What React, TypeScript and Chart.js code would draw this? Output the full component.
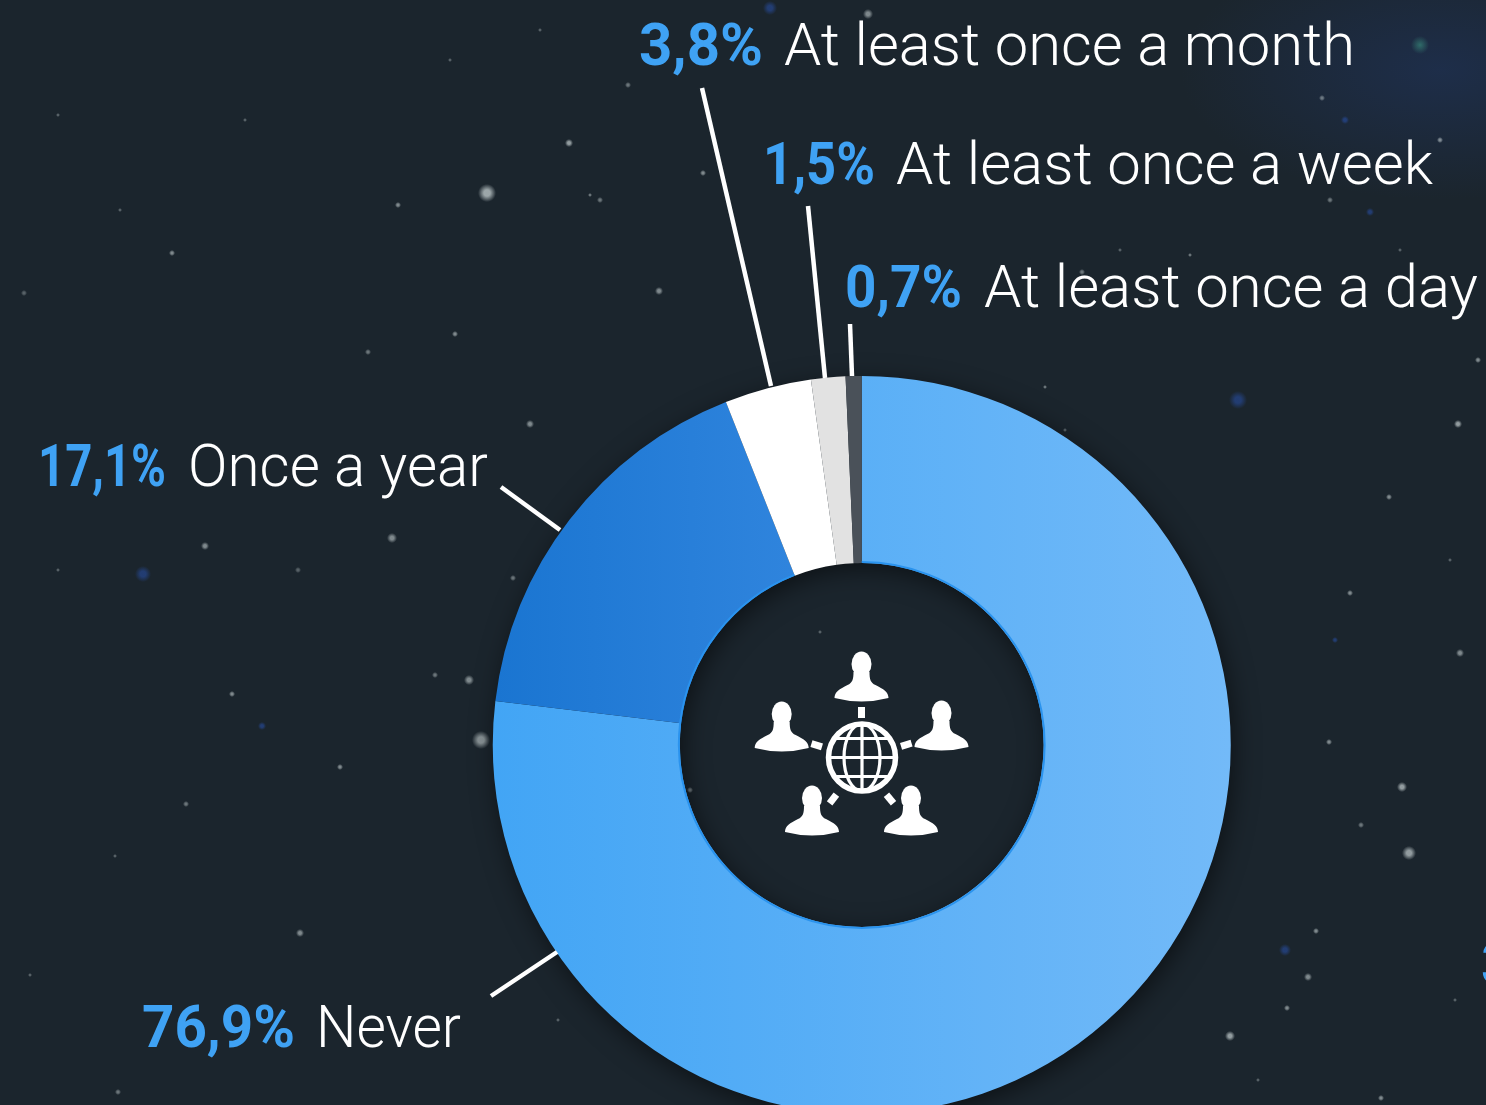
import React, { useEffect, useRef } from "react";
import { Chart, registerables } from "chart.js";

Chart.register(...registerables);

const categories = ["Never", "Once a year", "At least once a month", "At least once a week", "At least once a day"];
const shares = [76.9, 17.1, 3.8, 1.5, 0.7];
const shareLabels = ["76,9%", "17,1%", "3,8%", "1,5%", "0,7%"];

const W = 1486, H = 1105, CH = 1120;
const BLUE = "#3fa2f4";

// label layout: value x/width, name x/width, baseline
const labelBoxes = [
  [142, 153, 316, 145, 1047],
  [38, 128, 188, 300, 486],
  [639, 124, 784, 571, 65],
  [763, 112, 896, 537, 184],
  [845, 117, 984, 494, 307],
];
const leaders = [
  [491, 996, 557, 952],
  [501, 487, 560, 530],
  [702, 88, 771, 386],
  [808, 206, 825, 378],
  [850, 324, 852, 376],
];
const stars: number[][] = [
  [487,193,9,.65],[569,143,4,.6],[398,205,3,.5],[172,253,3,.5],[659,291,4,.5],[455,334,3,.5],[368,352,3,.4],[530,424,4,.5],
  [392,538,5,.5],[205,546,4,.5],[469,680,5,.5],[481,740,9,.55],[232,694,3,.5],[340,767,3,.5],[186,804,3,.4],[300,933,4,.5],
  [1458,424,4,.6],[1389,497,3,.5],[1350,593,3,.5],[1460,653,4,.5],[1329,742,3,.5],[1402,787,5,.6],[1409,853,7,.6],[1361,825,3,.4],
  [1316,931,3,.5],[1308,977,4,.5],[1230,1036,5,.6],[1287,1008,3,.5],[1381,1098,3,.5],[868,14,5,.5],[1478,360,3,.5],[1082,272,3,.4],
  [1150,300,2,.4],[600,200,3,.4],[703,173,3,.5],[590,195,2,.4],[24,293,3,.3],[120,210,2,.3],[58,115,2,.3],[245,120,2,.3],
  [450,60,2,.3],[540,30,2,.3],[628,85,3,.4],[298,570,3,.3],[58,570,2,.3],[115,856,2,.3],[30,975,2,.3],[118,1092,3,.4],
  [435,675,3,.4],[513,578,3,.4],[558,1020,2,.3],[1258,1080,2,.3],[1455,1000,2,.3],[1330,200,3,.4],[1440,140,3,.5],[1322,98,3,.4],
  [1045,387,2,.4],[1065,430,2,.3],[1190,255,2,.4],[1120,250,2,.3],[1400,250,2,.3],[1450,560,2,.3],[690,790,3,.4],[820,632,2,.3],
];
const blueStars: number[][] = [
  [1238,400,9],[143,574,8],[1285,950,6],[770,8,7],[262,726,4],[1345,120,4],[1370,212,4],[1335,640,3],
];

const starBackground = [
  ...stars.map(([x, y, r, a]) => `radial-gradient(circle ${r}px at ${x}px ${y}px, rgba(225,235,235,${a}) 35%, rgba(225,235,235,0) 100%)`),
  ...blueStars.map(([x, y, r]) => `radial-gradient(circle ${r}px at ${x}px ${y}px, rgba(40,80,170,.55) 35%, rgba(40,80,170,0) 100%)`),
  "radial-gradient(circle 9px at 1420px 45px, rgba(60,150,130,.6), rgba(60,150,130,0))",
  "radial-gradient(ellipse 260px 130px at 1440px 70px, rgba(34,60,120,.38), rgba(34,60,120,0))",
  "linear-gradient(#1b252d,#1b252d)",
].join(",");

function person(ctx: CanvasRenderingContext2D, cx: number, top: number) {
  ctx.save();
  ctx.translate(cx, top);
  ctx.beginPath();
  ctx.ellipse(0, 12, 10, 12.5, 0, 0, Math.PI * 2);
  ctx.fill();
  ctx.beginPath();
  ctx.moveTo(-27, 46);
  ctx.bezierCurveTo(-27, 40, -22, 37, -14, 33);
  ctx.bezierCurveTo(-9, 31, -8, 27, -8, 20);
  ctx.lineTo(8, 20);
  ctx.bezierCurveTo(8, 27, 9, 31, 14, 33);
  ctx.bezierCurveTo(22, 37, 27, 40, 27, 46);
  ctx.quadraticCurveTo(0, 53, -27, 46);
  ctx.closePath();
  ctx.fill();
  ctx.restore();
}

function tick(ctx: CanvasRenderingContext2D, x: number, y: number, deg: number) {
  ctx.save();
  ctx.translate(x, y);
  ctx.rotate((deg * Math.PI) / 180);
  ctx.fillRect(-3.5, -5.5, 7, 11);
  ctx.restore();
}

function drawIcon(ctx: CanvasRenderingContext2D) {
  ctx.save();
  ctx.fillStyle = "#fff";
  ctx.strokeStyle = "#fff";
  [[861.5, 652], [781.7, 702], [941.5, 701], [812, 786], [911, 786]].forEach(([x, y]) => person(ctx, x, y));
  tick(ctx, 861.5, 712.5, 0);
  tick(ctx, 816.7, 745.3, -73);
  tick(ctx, 906.3, 744.7, 73);
  tick(ctx, 833, 799, 38);
  tick(ctx, 890, 799, -40);
  const gx = 862, gy = 757.5, r = 33.5;
  ctx.lineWidth = 5.5;
  ctx.beginPath();
  ctx.arc(gx, gy, r, 0, Math.PI * 2);
  ctx.stroke();
  ctx.lineWidth = 3.2;
  ctx.beginPath();
  ctx.moveTo(gx, gy - r);
  ctx.lineTo(gx, gy + r);
  ctx.moveTo(gx - r, gy);
  ctx.lineTo(gx + r, gy);
  [-19, 19].forEach((d) => {
    const w = Math.sqrt(r * r - d * d);
    ctx.moveTo(gx - w, gy + d);
    ctx.lineTo(gx + w, gy + d);
  });
  ctx.stroke();
  ctx.beginPath();
  ctx.ellipse(gx, gy, 18, r, 0, 0, Math.PI * 2);
  ctx.stroke();
  ctx.restore();
}

function fitText(ctx: CanvasRenderingContext2D, text: string, x: number, y: number, width: number) {
  const natural = ctx.measureText(text).width;
  ctx.save();
  ctx.translate(x, y);
  ctx.scale(width / natural, 1);
  ctx.fillText(text, 0, 0);
  ctx.restore();
}

const decorations = {
  id: "decorations",
  beforeDatasetsDraw(chart: any) {
    const arc = chart.getDatasetMeta(0).data[0];
    const ctx: CanvasRenderingContext2D = chart.ctx;
    ctx.save();
    ctx.shadowColor = "rgba(0,0,0,.55)";
    ctx.shadowBlur = 26;
    ctx.shadowOffsetX = 3;
    ctx.shadowOffsetY = 6;
    ctx.fillStyle = "#1b252d";
    ctx.beginPath();
    ctx.arc(arc.x, arc.y, arc.outerRadius - 1, 0, Math.PI * 2);
    ctx.arc(arc.x, arc.y, arc.innerRadius + 1, 0, Math.PI * 2, true);
    ctx.fill();
    ctx.restore();
  },
  afterDatasetsDraw(chart: any) {
    const ctx: CanvasRenderingContext2D = chart.ctx;
    const meta = chart.getDatasetMeta(0).data;
    ctx.save();
    // brighter rim along the hole of the blue slices
    ctx.lineWidth = 2;
    ctx.strokeStyle = "#2a93ee";
    [0, 1].forEach((i) => {
      const a = meta[i];
      ctx.beginPath();
      ctx.arc(a.x, a.y, a.innerRadius + 1, a.startAngle, a.endAngle);
      ctx.stroke();
    });
    ctx.lineWidth = 4.5;
    ctx.strokeStyle = "#fff";
    leaders.forEach(([a, b, c, d]) => {
      ctx.beginPath();
      ctx.moveTo(a, b);
      ctx.lineTo(c, d);
      ctx.stroke();
    });
    ctx.textBaseline = "alphabetic";
    ctx.textAlign = "left";
    categories.forEach((name, i) => {
      const [vx, vw, nx, nw, y] = labelBoxes[i];
      ctx.font = "700 59px Roboto";
      ctx.fillStyle = BLUE;
      fitText(ctx, shareLabels[i], vx, y, vw);
      ctx.font = "300 59px Roboto";
      ctx.fillStyle = "#fff";
      fitText(ctx, name, nx, y, nw);
    });
    ctx.font = "700 59px Roboto";
    ctx.fillStyle = BLUE;
    ctx.fillText("3", 1481, 984);
    drawIcon(ctx);
    ctx.restore();
  },
};

const gradientStops = [
  ["#42a5f5", "#73baf8"],
  ["#1a75d1", "#2f84dd"],
];

export default function App() {
  const ref = useRef<HTMLCanvasElement>(null);
  useEffect(() => {
    const chart = new Chart(ref.current!, {
      type: "doughnut",
      data: {
        labels: categories,
        datasets: [
          {
            data: shares,
            borderWidth: 0,
            backgroundColor: (c: any) => {
              const solid = ["#55adf6", "#2379d8", "#ffffff", "#e2e2e2", "#4a5159"];
              const area = c.chart.chartArea;
              if (!area || c.dataIndex > 1) return solid[c.dataIndex];
              const [from, to] = gradientStops[c.dataIndex];
              const g = c.chart.ctx.createLinearGradient(c.dataIndex ? 495 : 492, 0, c.dataIndex ? 790 : 1230, 0);
              g.addColorStop(0, from);
              g.addColorStop(1, to);
              return g;
            },
          },
        ],
      },
      options: {
        responsive: false,
        animation: false,
        cutout: "49.3%",
        layout: { padding: { left: 492.5, right: 255, top: 376, bottom: 6 } },
        plugins: { legend: { display: false }, tooltip: { enabled: false } },
      },
      plugins: [decorations],
    } as any);
    return () => chart.destroy();
  }, []);
  return (
    <div
      style={{
        position: "fixed",
        left: 0,
        top: 0,
        width: W,
        height: H,
        overflow: "hidden",
        backgroundImage: starBackground,
      }}
    >
      <canvas ref={ref} width={W} height={CH} style={{ display: "block" }} />
    </div>
  );
}
